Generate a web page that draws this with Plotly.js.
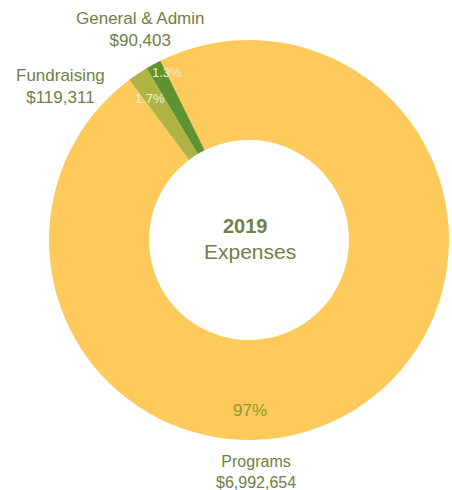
<!DOCTYPE html>
<html>
<head>
<meta charset="utf-8">
<script src="https://cdn.plot.ly/plotly-3.0.1.min.js"></script>
<style>
  html, body { margin: 0; padding: 0; background: #ffffff; }
  #chart { width: 452px; height: 490px; }
</style>
</head>
<body>
<div id="chart"></div>
<script>
// ---- data ----
var categories = ["Programs", "Fundraising", "General & Admin"];
var amounts = [6992654, 119311, 90403];
var percentLabels = ["97%", "1.7%", "1.3%"];
var sliceColors = ["#FDCA5B", "#B0B445", "#5F9332"];
var centerYear = "2019";
var centerLabel = "Expenses";

var W = 452, H = 490;
function px(x) { return x / W; }
function py(y) { return 1 - y / H; }
function money(v) { return "$" + v.toLocaleString("en-US"); }

var labelFont = "Liberation Sans, Arial, Helvetica, sans-serif";
var textGreen = "#6E8146";

var trace = {
  type: "pie",
  labels: categories,
  values: amounts,
  hole: 0.5,
  sort: false,
  direction: "clockwise",
  rotation: -26.3,
  marker: { colors: sliceColors, line: { width: 0 } },
  textinfo: "none",
  hoverinfo: "none",
  showlegend: false,
  domain: { x: [px(49), px(449)], y: [py(440), py(40)] }
};

// outer category labels (name + amount)
var outerPos = [
  { x: 256, y: 472, size: 16 },
  { x: 60, y: 86, size: 17 },
  { x: 140, y: 30, size: 17 }
];
// inner percentage labels
var pctPos = [
  { x: 250, y: 410, size: 17, color: "#8A9A2E" },
  { x: 150, y: 99, size: 13, color: "#EEF0D6" },
  { x: 167, y: 72, size: 13, color: "#EEF0D6" }
];

var annotations = [];
for (var i = 0; i < categories.length; i++) {
  annotations.push({
    xref: "paper", yref: "paper",
    x: px(outerPos[i].x), y: py(outerPos[i].y),
    xanchor: "center", yanchor: "middle",
    text: categories[i] + "<br>" + money(amounts[i]),
    showarrow: false,
    font: { family: labelFont, size: outerPos[i].size, color: textGreen }
  });
  annotations.push({
    xref: "paper", yref: "paper",
    x: px(pctPos[i].x), y: py(pctPos[i].y),
    xanchor: "center", yanchor: "middle",
    text: percentLabels[i],
    showarrow: false,
    font: { family: labelFont, size: pctPos[i].size, color: pctPos[i].color }
  });
}
annotations.push({
  xref: "paper", yref: "paper",
  x: px(246), y: py(226),
  xanchor: "center", yanchor: "middle",
  text: "<b>" + centerYear + "</b>",
  showarrow: false, borderpad: 0,
  font: { family: labelFont, size: 20, color: textGreen }
});
annotations.push({
  xref: "paper", yref: "paper",
  x: px(250), y: py(251),
  xanchor: "center", yanchor: "middle",
  text: centerLabel,
  showarrow: false, borderpad: 0,
  font: { family: labelFont, size: 21, color: textGreen }
});

var layout = {
  width: W,
  height: H,
  margin: { l: 0, r: 0, t: 0, b: 0 },
  paper_bgcolor: "#ffffff",
  plot_bgcolor: "#ffffff",
  showlegend: false,
  annotations: annotations
};

Plotly.newPlot("chart", [trace], layout, { displayModeBar: false, staticPlot: true });
</script>
</body>
</html>
